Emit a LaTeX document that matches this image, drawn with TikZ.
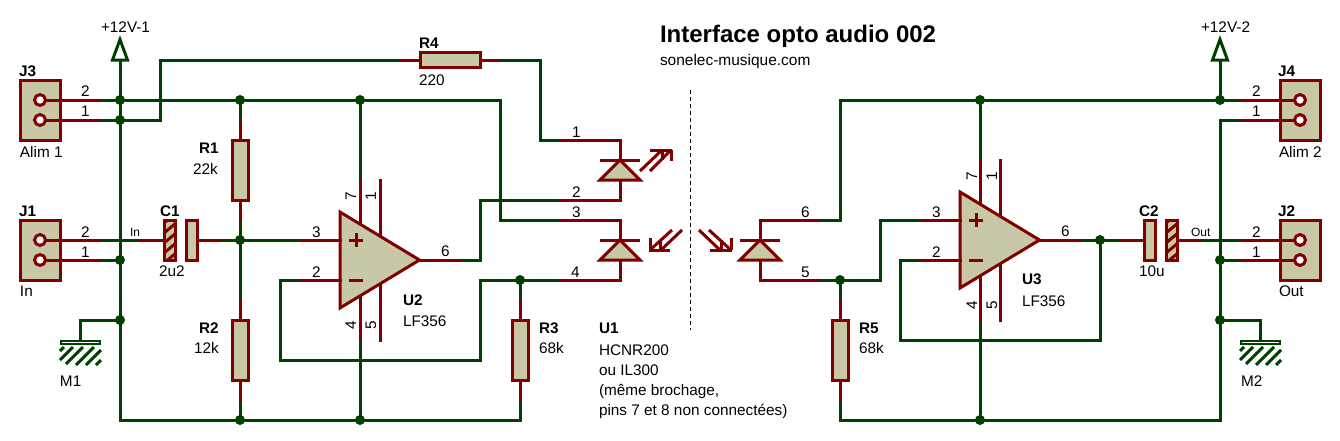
\documentclass[tikz,border=0pt]{standalone}
\usepackage{fontspec}
\setmainfont{Liberation Sans}
\usetikzlibrary{backgrounds}
\definecolor{wireg}{RGB}{0,64,0}
\definecolor{compr}{RGB}{128,0,0}
\definecolor{bodyc}{RGB}{200,200,168}
\tikzset{
  wire/.style={draw=wireg,line width=2.25pt,line cap=rect,line join=miter},
  stub/.style={draw=compr,line width=2.25pt,line cap=rect,line join=miter},
  boxc/.style={draw=compr,fill=bodyc,line width=2.25pt,inner sep=0pt,outer sep=0pt,rectangle},
  resv/.style={boxc,minimum width=11.5pt,minimum height=45pt},
  resh/.style={boxc,minimum width=45pt,minimum height=11.5pt},
  hdr/.style={boxc,minimum width=30pt,minimum height=45pt},
  capp/.style={boxc,minimum width=8pt,minimum height=30pt},
  pinc/.style={circle,draw=compr,fill=white,line width=2.25pt,minimum size=8.2pt,inner sep=0pt,outer sep=0pt},
  junc/.style={circle,fill=wireg,minimum size=7.5pt,inner sep=0pt,outer sep=0pt},
  lab/.style={anchor=base west,inner sep=0pt,outer sep=0pt,font=\fontsize{11.5}{13}\selectfont},
  labb/.style={lab,font=\fontsize{11.5}{13}\selectfont\bfseries},
  labs/.style={lab,font=\fontsize{9}{11}\selectfont},
  labr/.style={anchor=base,rotate=90,inner sep=0pt,outer sep=0pt,font=\fontsize{11.5}{13}\selectfont},
}
\newcommand\opampsym[2]{%
  \begin{scope}[shift={(#2)}]
    \draw[stub,fill=bodyc] (0,-48) -- (79.5,0) -- (0,48) -- cycle;
    \draw[stub] (-40,-20) coordinate (#1-p) -- (0,-20);
    \draw[stub] (-40,20) coordinate (#1-m) -- (0,20);
    \draw[stub] (79,0) -- (120,0) coordinate (#1-o);
    \draw[stub] (20,-80) coordinate (#1-s7) -- (20,-37.5);
    \draw[stub] (40,-80) -- (40,-25);
    \draw[stub] (20,37.5) -- (20,80) coordinate (#1-s4);
    \draw[stub] (40,25) -- (40,80);
    \draw[stub,line cap=butt] (9,-20) -- (23,-20);
    \draw[stub,line cap=butt] (16,-27) -- (16,-13);
    \draw[stub,line cap=butt] (9,20) -- (23,20);
  \end{scope}}
\newcommand\diodesym[3]{%
  \begin{scope}[shift={(#2)}]
    \draw[stub,fill=bodyc] (0,0) -- (-20,20) -- (20,20) -- cycle;
    \draw[stub,line cap=butt] (-20,0) -- (20,0);
    \draw[stub] (0,0) -- (0,-20) -- (#3,-20) coordinate (#1-a);
    \draw[stub] (0,20) -- (0,40) -- (#3,40) coordinate (#1-b);
  \end{scope}}
\newcommand\pwrsym[2]{%
  \begin{scope}[shift={(#2)}]
    \draw[wire,fill=white,line cap=butt] (-7.5,60) -- (0,39.5) -- (7.5,60) -- cycle;
    \coordinate (#1) at (0,60);
  \end{scope}}
\newcommand\gndsym[2]{%
  \begin{scope}[shift={(#2)}]
    \draw[wire,fill=white,line width=1.5pt] (-19.5,341) rectangle (19.5,344);
    \coordinate (#1) at (0,340);
    \draw[wire,line cap=butt] (-20,351) -- (-16,347);
    \draw[wire,line cap=butt] (-20,360) -- (-7,347);
    \draw[wire,line cap=butt] (-14,364) -- (3,347);
    \draw[wire,line cap=butt] (-4,365) -- (14,347);
    \draw[wire,line cap=butt] (6,365) -- (21,350);
    \draw[wire,line cap=butt] (16,365) -- (21,360);
  \end{scope}}
\newcommand\hatchcap[1]{%
  \begin{scope}
    \clip (#1) ++(-6,-20) rectangle ++(12,40);
    \foreach \k in {-27,-17,-7,3,13,23} {
      \draw[stub] (#1) ++(-6,\k+10) -- ++(12,-10);
    }
  \end{scope}}
\begin{document}
\begin{tikzpicture}[x=0.75pt,y=-0.75pt]
\useasboundingbox (0,0) rectangle (1340,440);

% ---------- junctions
\node[junc] (ja) at (120,100) {};
\node[junc] (jb) at (120,120) {};
\node[junc] (jc) at (120,260) {};
\node[junc] (jd) at (120,320) {};
\node[junc] (je) at (240,100) {};
\node[junc] (jf) at (360,100) {};
\node[junc] (jg) at (240,240) {};
\node[junc] (jh) at (240,420) {};
\node[junc] (ji) at (360,420) {};
\node[junc] (jj) at (520,280) {};
\node[junc] (jk) at (840,280) {};
\node[junc] (jl) at (980,100) {};
\node[junc] (jm) at (1220,100) {};
\node[junc] (jn) at (980,420) {};
\node[junc] (jo) at (1220,260) {};
\node[junc] (jp) at (1220,320) {};
\node[junc] (jq) at (1100,240) {};

% ---------- wire corners
\coordinate (c1) at (160,60);
\coordinate (c2) at (540,140);
\coordinate (c3) at (500,220);
\coordinate (c4) at (480,200);
\coordinate (c5) at (480,280);
\coordinate (c6) at (480,360);
\coordinate (c7) at (280,360);
\coordinate (c8) at (840,100);
\coordinate (c9) at (880,280);
\coordinate (c10) at (1220,420);
\coordinate (c11) at (1220,120);
\coordinate (c12) at (900,260);
\coordinate (c13) at (900,340);
\coordinate (c14) at (120,420);
\coordinate (dv1) at (690,90);
\coordinate (dv2) at (690,330);

% ---------- headers
\node[hdr] (J3) at (40.5,110) {};
\node[hdr] (J1) at (40.5,250) {};
\node[hdr] (J4) at (1300.5,110) {};
\node[hdr] (J2) at (1300.5,250) {};
\node[pinc] (J3a) at (40,100) {};
\node[pinc] (J3b) at (40,120) {};
\node[pinc] (J1a) at (40,240) {};
\node[pinc] (J1b) at (40,260) {};
\node[pinc] (J4a) at (1300,100) {};
\node[pinc] (J4b) at (1300,120) {};
\node[pinc] (J2a) at (1300,240) {};
\node[pinc] (J2b) at (1300,260) {};
\draw[stub] (J3a.east) -- (100,100) coordinate (J3as);
\draw[stub] (J3b.east) -- (100,120) coordinate (J3bs);
\draw[stub] (J1a.east) -- (100,240) coordinate (J1as);
\draw[stub] (J1b.east) -- (100,260) coordinate (J1bs);
\draw[stub] (J4a.west) -- (1240,100) coordinate (J4as);
\draw[stub] (J4b.west) -- (1240,120) coordinate (J4bs);
\draw[stub] (J2a.west) -- (1240,240) coordinate (J2as);
\draw[stub] (J2b.west) -- (1240,260) coordinate (J2bs);

% ---------- resistors
\node[resv] (R1) at (240.5,170) {};
\node[resv] (R2) at (240.5,350) {};
\node[resv] (R3) at (520.5,350) {};
\node[resv] (R5) at (840.5,350) {};
\node[resh] (R4) at (450,60) {};
\draw[stub] (240,140) -- (240,120) coordinate (R1a);
\draw[stub] (240,200) -- (240,220) coordinate (R1b);
\draw[stub] (240,320) -- (240,300) coordinate (R2a);
\draw[stub] (240,380) -- (240,400) coordinate (R2b);
\draw[stub] (520,320) -- (520,300) coordinate (R3a);
\draw[stub] (520,380) -- (520,400) coordinate (R3b);
\draw[stub] (840,320) -- (840,300) coordinate (R5a);
\draw[stub] (840,380) -- (840,400) coordinate (R5b);
\draw[stub] (R4.west) -- ++(-20,0) coordinate (R4a);
\draw[stub] (R4.east) -- ++(20,0) coordinate (R4b);

% ---------- capacitors
\node[capp] (C1a) at (170,240) {};
\hatchcap{170,240}
\node[capp,fill=none] (C1ax) at (170,240) {};
\node[capp] (C1b) at (192,240) {};
\draw[stub] (C1a.west) -- ++(-25,0) coordinate (C1as);
\draw[stub] (C1b.east) -- ++(22,0) coordinate (C1bs);
\node[capp] (C2a) at (1150,240) {};
\node[capp] (C2b) at (1172,240) {};
\hatchcap{1172,240}
\node[capp,fill=none] (C2bx) at (1172,240) {};
\draw[stub] (C2a.west) -- ++(-24,0) coordinate (C2as);
\draw[stub] (C2b.east) -- ++(22,0) coordinate (C2bs);

% ---------- op amps, diodes, power and ground
\opampsym{U2}{340,260}
\opampsym{U3}{960,240}
\diodesym{D1}{620,160}{-60}
\diodesym{D2}{620,240}{-60}
\diodesym{D3}{760,240}{60}
\pwrsym{V1}{120,0}
\pwrsym{V2}{1220,0}
\gndsym{G1}{80,0}
\gndsym{G2}{1260,0}

% optical arrows
\draw[stub,line cap=butt] (640,171) -- (662,150);
\draw[stub,line cap=butt] (650,171) -- (671,150);
\draw[stub,line cap=butt] (650,150) -- (672,150);
\draw[stub,line cap=butt] (671,150) -- (671,161);
\draw[stub,line cap=butt] (662,150) -- (662,160);
\draw[stub,line cap=butt] (682,230) -- (661,250);
\draw[stub,line cap=butt] (672,230) -- (650,250);
\draw[stub,line cap=butt] (649,250) -- (670,250);
\draw[stub,line cap=butt] (650,238) -- (650,250);
\draw[stub,line cap=butt] (660,240) -- (660,250);
\draw[stub,line cap=butt] (699,230) -- (720,250);
\draw[stub,line cap=butt] (709,230) -- (731,250);
\draw[stub,line cap=butt] (710,250) -- (732,250);
\draw[stub,line cap=butt] (731,238) -- (731,250);
\draw[stub,line cap=butt] (721,240) -- (721,250);

\draw[black,line width=0.75pt,dash pattern=on 3pt off 2.25pt] (dv1) -- (dv2);

% ---------- wires
\begin{pgfonlayer}{background}
\draw[wire] (V1) -- (ja) -- (jb) -- (jc) -- (jd) -- (c14) -- (jh) -- (ji) -| (R3b);
\draw[wire] (J3as) -- (ja) -- (je) -- (jf) -| (c3) -- (D2-a);
\draw[wire] (J3bs) -- (jb) -| (c1) -- (R4a);
\draw[wire] (R4b) -| (c2) -- (D1-a);
\draw[wire] (D1-b) -- (c4) |- (U2-o);
\draw[wire] (D2-b) -- (jj) -- (c5) -- (c6) -- (c7) |- (U2-m);
\draw[wire] (jj) -- (R3a);
\draw[wire] (je) -- (R1a);
\draw[wire] (R1b) -- (jg) -- (R2a);
\draw[wire] (R2b) -- (jh);
\draw[wire] (C1bs) -- (jg) -- (U2-p);
\draw[wire] (J1as) -- (C1as);
\draw[wire] (J1bs) -- (jc);
\draw[wire] (jf) -- (U2-s7);
\draw[wire] (U2-s4) -- (ji);
\draw[wire] (jd) -| (G1);
\draw[wire] (V2) -- (jm) -- (jl) -- (c8) |- (D3-a);
\draw[wire] (jm) -- (J4as);
\draw[wire] (J4bs) -- (c11) -- (jp) -- (c10) -- (jn) -| (R5b);
\draw[wire] (D3-b) -- (jk) -- (R5a);
\draw[wire] (jk) -- (c9) |- (U3-p);
\draw[wire] (U3-m) -- (c12) -- (c13) -| (jq);
\draw[wire] (U3-o) -- (jq) -- (C2as);
\draw[wire] (C2bs) -- (J2as);
\draw[wire] (J2bs) -- (jo);
\draw[wire] (jl) -- (U3-s7);
\draw[wire] (U3-s4) -- (jn);
\draw[wire] (jp) -| (G2);
\end{pgfonlayer}

% ---------- texts
\node[lab] (tV1) at (101,32) {+12V-1};
\node[lab] (tV2) at (1201,32) {+12V-2};
\node[labb] (tJ3) at (19,76) {J3};
\node[labb] (tJ1) at (19,216) {J1};
\node[labb] (tJ4) at (1278,76) {J4};
\node[labb] (tJ2) at (1278,216) {J2};
\node[lab] (tJ3n) at (20,157) {Alim 1};
\node[lab] (tJ1n) at (20,296) {In};
\node[lab] (tJ4n) at (1279,157) {Alim 2};
\node[lab] (tJ2n) at (1279,296) {Out};
\node[lab] (p1) at (81,96) {2};
\node[lab] (p2) at (81,116) {1};
\node[lab] (p3) at (81,237) {2};
\node[lab] (p4) at (81,257) {1};
\node[lab] (p5) at (1252,96) {2};
\node[lab] (p6) at (1252,116) {1};
\node[lab] (p7) at (1252,237) {2};
\node[lab] (p8) at (1252,257) {1};
\node[labs] (tIn) at (130,236) {In};
\node[labs] (tOut) at (1191,236) {Out};
\node[labb] (tC1) at (160,216) {C1};
\node[lab] (tC1v) at (159,276) {2u2};
\node[labb] (tC2) at (1139,216) {C2};
\node[lab] (tC2v) at (1139,276) {10u};
\node[labb] (tR1) at (199,153) {R1};
\node[lab] (tR1v) at (193,174) {22k};
\node[labb] (tR2) at (199,333) {R2};
\node[lab] (tR2v) at (194,353) {12k};
\node[labb] (tR3) at (539,333) {R3};
\node[lab] (tR3v) at (539,353) {68k};
\node[labb] (tR5) at (859,333) {R5};
\node[lab] (tR5v) at (859,353) {68k};
\node[labb] (tR4) at (419,48) {R4};
\node[lab] (tR4v) at (419,85) {220};
\node[lab] (tM1) at (60,386) {M1};
\node[lab] (tM2) at (1241,386) {M2};
\node[lab] (u2p3) at (312,237) {3};
\node[lab] (u2p2) at (312,277) {2};
\node[lab] (u2p6) at (441,256) {6};
\node[labr] (u2p7) at (356,196) {7};
\node[labr] (u2p1) at (376,196) {1};
\node[labr] (u2p4) at (356,325) {4};
\node[labr] (u2p5) at (376,325) {5};
\node[labb] (tU2) at (403,305) {U2};
\node[lab] (tU2v) at (403,326) {LF356};
\node[lab] (u3p3) at (932,217) {3};
\node[lab] (u3p2) at (932,257) {2};
\node[lab] (u3p6) at (1061,236) {6};
\node[labr] (u3p7) at (977,176) {7};
\node[labr] (u3p1) at (997,176) {1};
\node[labr] (u3p4) at (977,305) {4};
\node[labr] (u3p5) at (997,305) {5};
\node[labb] (tU3) at (1022,284) {U3};
\node[lab] (tU3v) at (1022,306) {LF356};
\node[lab] (d1) at (572,137) {1};
\node[lab] (d2) at (572,197) {2};
\node[lab] (d3) at (572,217) {3};
\node[lab] (d4) at (571,277) {4};
\node[lab] (d6) at (801,217) {6};
\node[lab] (d5) at (801,277) {5};
\node[labb] (tU1) at (599,333) {U1};
\node[lab] (tU1a) at (599,355) {HCNR200};
\node[lab] (tU1b) at (599,375) {ou IL300};
\node[lab] (tU1c) at (599,395) {(même brochage,};
\node[lab] (tU1d) at (599,415) {pins 7 et 8 non connectées)};
\node[lab,font=\fontsize{18}{20}\selectfont\bfseries] (tTitle) at (660,42) {Interface opto audio 002};
\node[lab,font=\fontsize{11.6}{13}\selectfont] (tWeb) at (660,65) {sonelec-musique.com};
\end{tikzpicture}
\end{document}
